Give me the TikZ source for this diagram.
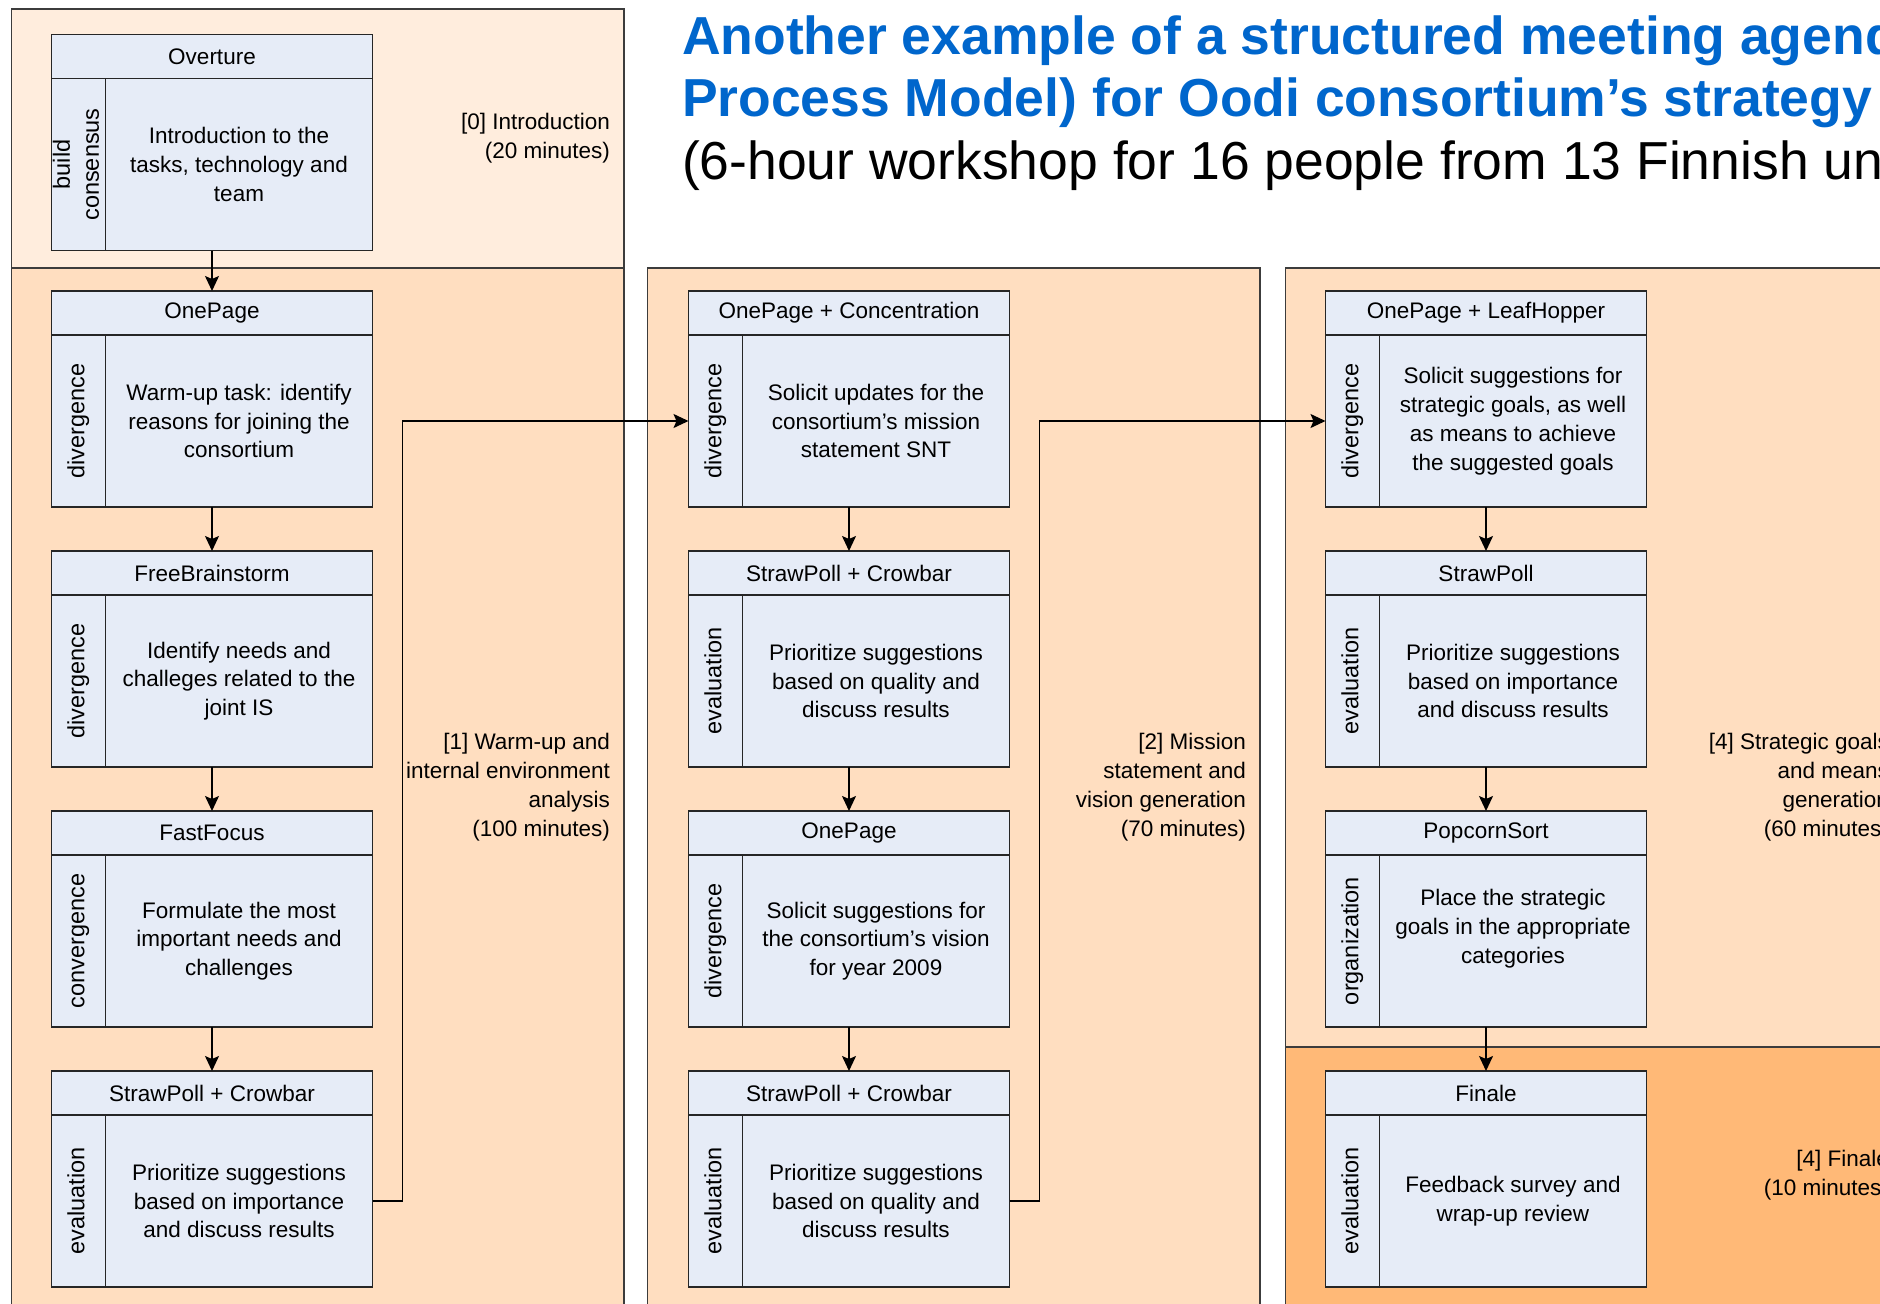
\documentclass[tikz,border=0pt]{standalone}
\usepackage{fontspec}
\setmainfont{Liberation Sans}
\usetikzlibrary{positioning, arrows.meta}
\definecolor{titleblue}{RGB}{0,102,204}
\definecolor{introfill}{RGB}{255,237,221}
\definecolor{stagefill}{RGB}{255,222,192}
\definecolor{finalefill}{RGB}{255,185,119}
\definecolor{taskfill}{RGB}{230,236,247}
\definecolor{framegray}{RGB}{60,60,60}
\newcommand{\boxfont}{\fontsize{22.5}{28.8}\selectfont}
\newcommand{\sidefont}{\fontsize{23.5}{29}\selectfont}
% one thinkLet box: name, position of the header, title, pattern, task
\newcommand{\thinklet}[5]{%
  \node[head] (#1) at #2 {#3};
  \node[side, below right=0pt and 0pt of #1.south west] (#1-s)
    {\makebox[0pt]{\rotatebox{90}{\begin{tabular}{@{}c@{}}#4\end{tabular}}}};
  \node[task, right=0pt of #1-s] (#1-t) {#5};
}

\begin{document}
\begin{tikzpicture}[x=1pt, y=-1pt,
  every node/.style={inner sep=2pt, outer sep=0pt},
  stage/.style={draw=framegray, line width=1.3pt},
  head/.style={draw=black!85, line width=1.6pt, fill=taskfill,
               minimum width=321pt, minimum height=44pt, font=\boxfont},
  side/.style={draw=black!85, line width=1.6pt, fill=taskfill,
               minimum width=54pt, minimum height=172pt, font=\sidefont},
  task/.style={draw=black!85, line width=1.6pt, fill=taskfill,
               minimum width=267pt, minimum height=172pt,
               align=center, font=\boxfont},
  ann/.style={font=\boxfont, align=right, anchor=east},
  title/.style={font=\fontsize{53.5}{63}\selectfont\bfseries, color=titleblue,
                anchor=base west, inner sep=0pt},
  subtitle/.style={font=\fontsize{53.5}{63}\selectfont, anchor=base west,
                   inner sep=0pt},
  arrow/.style={-{Stealth[length=15pt, width=14pt, inset=3pt]},
                line width=1.6pt}]
\path[fill=white, use as bounding box] (0,0) rectangle (1880,1304);

% stages
\filldraw[stage, fill=introfill] (11.5,9) rectangle (624,268);
\filldraw[stage, fill=stagefill] (11.5,268) rectangle (624,1310);
\filldraw[stage, fill=stagefill] (647.5,268) rectangle (1260,1310);
\filldraw[stage, fill=stagefill] (1285.5,268) rectangle (1900,1047);
\filldraw[stage, fill=finalefill] (1285.5,1047) rectangle (1900,1310);

\node[ann] (intro) at (612,138) {[0] Introduction\\(20 minutes)};
\node[ann] (warmup) at (612,787)
  {[1] Warm-up and\\internal environment\\analysis\\(100 minutes)};
\node[ann] (mission) at (1248,787)
  {[2] Mission\\statement and\\vision generation\\(70 minutes)};
\node[ann] (goals) at (1891,787)
  {[4] Strategic goals\\and means\\generation\\(60 minutes)};
\node[ann] (finale) at (1891,1175) {[4] Finale\\(10 minutes)};

% title
\node[title] (title1) at (682,54) {Another example of a structured meeting agend};
\node[title] (title2) at (682,116) {Process Model) for Oodi consortium’s strategy};
\node[subtitle] (title3) at (682,179)
  {(6-hour workshop for 16 people from 13 Finnish un};

% first column
\thinklet{ov}{(212,56.5)}{Overture}{build\\consensus}
  {Introduction to the\\tasks, technology and\\team}
\thinklet{op1}{(212,313)}{OnePage}{divergence}
  {Warm-up task: identify\\reasons for joining the\\consortium}
\thinklet{fb1}{(212,573)}{FreeBrainstorm}{divergence}
  {Identify needs and\\challeges related to the\\joint IS}
\thinklet{ff1}{(212,833)}{FastFocus}{convergence}
  {Formulate the most\\important needs and\\challenges}
\thinklet{sc1}{(212,1093)}{StrawPoll + Crowbar}{evaluation}
  {Prioritize suggestions\\based on importance\\and discuss results}

% second column
\thinklet{oc2}{(849,313)}{OnePage + Concentration}{divergence}
  {Solicit updates for the\\consortium's mission\\statement SNT}
\thinklet{sc2}{(849,573)}{StrawPoll + Crowbar}{evaluation}
  {Prioritize suggestions\\based on quality and\\discuss results}
\thinklet{op2}{(849,833)}{OnePage}{divergence}
  {Solicit suggestions for\\the consortium's vision\\for year 2009}
\thinklet{sc3}{(849,1093)}{StrawPoll + Crowbar}{evaluation}
  {Prioritize suggestions\\based on quality and\\discuss results}

% third column
\thinklet{ol3}{(1486,313)}{OnePage + LeafHopper}{divergence}
  {Solicit suggestions for\\strategic goals, as well\\as means to achieve\\the suggested goals}
\thinklet{sp3}{(1486,573)}{StrawPoll}{evaluation}
  {Prioritize suggestions\\based on importance\\and discuss results}
\thinklet{ps3}{(1486,833)}{PopcornSort}{organization}
  {Place the strategic\\goals in the appropriate\\categories\\~}
\thinklet{fin}{(1486,1093)}{Finale}{evaluation}
  {Feedback survey and\\wrap-up review}

% flow
\draw[arrow] (ov |- ov-t.south) -- (op1.north);
\draw[arrow] (op1 |- op1-t.south) -- (fb1.north);
\draw[arrow] (fb1 |- fb1-t.south) -- (ff1.north);
\draw[arrow] (ff1 |- ff1-t.south) -- (sc1.north);
\draw[arrow] (sc1-t.east) -- ++(30,0) |- (oc2-s.west);
\draw[arrow] (oc2 |- oc2-t.south) -- (sc2.north);
\draw[arrow] (sc2 |- sc2-t.south) -- (op2.north);
\draw[arrow] (op2 |- op2-t.south) -- (sc3.north);
\draw[arrow] (sc3-t.east) -- ++(30,0) |- (ol3-s.west);
\draw[arrow] (ol3 |- ol3-t.south) -- (sp3.north);
\draw[arrow] (sp3 |- sp3-t.south) -- (ps3.north);
\draw[arrow] (ps3 |- ps3-t.south) -- (fin.north);
\end{tikzpicture}
\end{document}
